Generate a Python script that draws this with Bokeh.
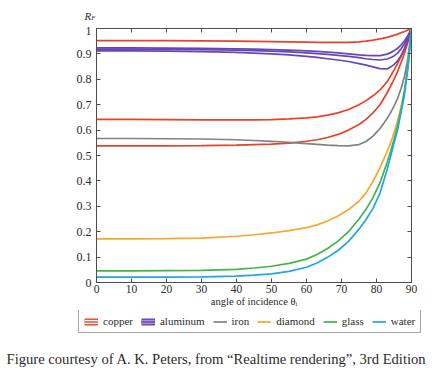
from bokeh.plotting import figure
from bokeh.layouts import column
from bokeh.models import (Range1d, FixedTicker, LinearAxis, Legend, LegendItem,
                          Label, CustomJSTickFormatter)
from bokeh.embed import file_html
from bokeh.resources import INLINE

# ---------------- data ----------------
angles = [0, 10, 20, 30, 40, 45, 50, 55, 60, 63, 66, 69, 72, 75, 77, 79, 81, 83,
          84, 85, 86, 87, 88, 89, 90]

copper_r = [0.952, 0.952, 0.952, 0.951, 0.950, 0.949, 0.948, 0.947, 0.946, 0.945,
            0.945, 0.945, 0.945, 0.947, 0.950, 0.954, 0.959, 0.965, 0.969, 0.973,
            0.978, 0.983, 0.988, 0.994, 1.0]
copper_g = [0.642, 0.642, 0.641, 0.640, 0.640, 0.640, 0.641, 0.644, 0.648, 0.652,
            0.659, 0.668, 0.681, 0.700, 0.716, 0.735, 0.758, 0.790, 0.812, 0.836,
            0.862, 0.890, 0.922, 0.958, 1.0]
copper_b = [0.538, 0.538, 0.538, 0.539, 0.541, 0.543, 0.545, 0.549, 0.556, 0.562,
            0.571, 0.583, 0.600, 0.622, 0.642, 0.668, 0.700, 0.746, 0.772, 0.800,
            0.830, 0.865, 0.903, 0.948, 1.0]
aluminum_1 = [0.924, 0.924, 0.923, 0.922, 0.920, 0.919, 0.917, 0.915, 0.912, 0.910,
              0.907, 0.904, 0.900, 0.896, 0.894, 0.893, 0.893, 0.899, 0.905, 0.912,
              0.922, 0.935, 0.952, 0.973, 1.0]
aluminum_2 = [0.919, 0.919, 0.918, 0.917, 0.915, 0.913, 0.911, 0.908, 0.904, 0.901,
              0.898, 0.894, 0.890, 0.885, 0.881, 0.878, 0.876, 0.880, 0.885, 0.892,
              0.903, 0.919, 0.940, 0.966, 1.0]
aluminum_3 = [0.912, 0.912, 0.911, 0.909, 0.906, 0.903, 0.900, 0.896, 0.890, 0.886,
              0.881, 0.876, 0.870, 0.862, 0.856, 0.849, 0.842, 0.841, 0.848, 0.858,
              0.873, 0.893, 0.920, 0.955, 1.0]
iron = [0.567, 0.567, 0.566, 0.565, 0.562, 0.559, 0.556, 0.552, 0.547, 0.544,
        0.541, 0.539, 0.538, 0.543, 0.555, 0.576, 0.606, 0.645, 0.668, 0.694,
        0.724, 0.763, 0.812, 0.885, 1.0]
diamond = [0.172, 0.172, 0.173, 0.175, 0.182, 0.188, 0.195, 0.204, 0.216, 0.227,
           0.242, 0.262, 0.287, 0.320, 0.353, 0.398, 0.452, 0.514, 0.548, 0.590,
           0.636, 0.690, 0.755, 0.850, 1.0]
glass = [0.046, 0.046, 0.047, 0.048, 0.052, 0.057, 0.064, 0.075, 0.092, 0.110,
         0.134, 0.163, 0.200, 0.250, 0.288, 0.334, 0.393, 0.471, 0.515, 0.563,
         0.615, 0.680, 0.755, 0.855, 1.0]
water = [0.021, 0.021, 0.021, 0.022, 0.025, 0.029, 0.034, 0.044, 0.060, 0.077,
         0.099, 0.126, 0.162, 0.210, 0.248, 0.292, 0.352, 0.443, 0.495, 0.548,
         0.600, 0.668, 0.740, 0.848, 1.0]

x_ticks = [0, 10, 20, 30, 40, 50, 60, 70, 80, 90]
y_ticks = [0, 0.1, 0.2, 0.3, 0.4, 0.5, 0.6, 0.7, 0.8, 0.9, 1.0]
legend_names = ["copper", "aluminum", "iron", "diamond", "glass", "water"]
x_title = "angle of incidence \u03b8\u1d62"
caption = "Figure courtesy of A. K. Peters, from \u201cRealtime rendering\u201d, 3rd Edition"

# ---------------- styles ----------------
SERIF = "Liberation Serif"
C_COPPER = "#ea4129"
C_ALU = "#6747b5"
C_ALU_LIGHT = "#a593d8"
C_IRON = "#7f8387"
C_DIAMOND = "#f8a82c"
C_GLASS = "#43b449"
C_WATER = "#1ea7e1"
AX = "#4d4d4d"
TXT = "#2b2b2b"
LW = 1.7
W = 432
TOP_H, MAIN_H, BOT_H = 26, 284, 66


def no_align(f):
    try:
        f.frame_align = False
    except Exception:
        pass


def blank_fig(h):
    f = figure(width=W, height=h, output_backend="svg", toolbar_location=None,
               title=None, x_axis_location=None, y_axis_location=None,
               x_range=Range1d(0, W), y_range=Range1d(h, 0),
               min_border=0, min_border_left=0, min_border_right=0,
               min_border_top=0, min_border_bottom=0)
    f.grid.visible = False
    f.outline_line_color = None
    f.background_fill_color = "white"
    f.border_fill_color = "white"
    no_align(f)
    return f


def lab(f, x, y, text, size, style="normal", align="left", baseline="alphabetic"):
    f.add_layout(Label(x=x, y=y, text=text, text_font=SERIF, text_font_size=size,
                       text_font_style=style, text_color=TXT, text_align=align,
                       text_baseline=baseline))


# ---------------- top strip: y label R_F ----------------
top_fig = blank_fig(TOP_H)
lab(top_fig, 84, 15.7, "R", "11px", "italic")
lab(top_fig, 90.8, 17.2, "F", "6.5px", "italic")

# ---------------- main plot ----------------
p = figure(width=W, height=MAIN_H, output_backend="svg", toolbar_location=None,
           x_range=Range1d(0, 90), y_range=Range1d(0, 1),
           min_border_left=96, min_border_right=21, min_border_top=2,
           min_border_bottom=28)
no_align(p)
p.grid.visible = False
p.outline_line_color = AX
p.outline_line_width = 1
p.background_fill_color = "white"
p.border_fill_color = "white"

blank = CustomJSTickFormatter(code="return ''")


def style_axis(ax):
    ax.axis_line_color = AX
    ax.major_tick_line_color = AX
    ax.major_tick_in = 4
    ax.major_tick_out = 0
    ax.minor_tick_line_color = None
    ax.major_label_text_font = SERIF
    ax.major_label_text_color = TXT
    ax.major_label_text_font_style = "normal"


xa = p.xaxis[0]
xa.ticker = FixedTicker(ticks=x_ticks)
style_axis(xa)
xa.major_label_text_font_size = "11.5px"
xa.major_label_standoff = 2
xa.axis_label = x_title
xa.axis_label_text_font = SERIF
xa.axis_label_text_font_size = "10.5px"
xa.axis_label_text_font_style = "normal"
xa.axis_label_text_color = TXT
xa.axis_label_standoff = 0

ya = p.yaxis[0]
ya.ticker = FixedTicker(ticks=y_ticks)
ya.formatter = CustomJSTickFormatter(code="return String(Math.round(tick*10)/10)")
style_axis(ya)
ya.major_label_text_font_size = "12px"
ya.major_label_standoff = 5

top = LinearAxis(ticker=FixedTicker(ticks=x_ticks), formatter=blank)
style_axis(top)
top.major_label_standoff = 0
p.add_layout(top, "above")
right = LinearAxis(ticker=FixedTicker(ticks=y_ticks), formatter=blank)
style_axis(right)
right.major_label_standoff = 0
p.add_layout(right, "right")

for ys in (copper_r, copper_g, copper_b):
    p.line(angles, ys, line_color=C_COPPER, line_width=LW)
for ys in (aluminum_1, aluminum_2, aluminum_3):
    p.line(angles, ys, line_color=C_ALU, line_width=LW)
p.line(angles, iron, line_color=C_IRON, line_width=LW)
p.line(angles, diamond, line_color=C_DIAMOND, line_width=LW)
p.line(angles, glass, line_color=C_GLASS, line_width=LW)
p.line(angles, water, line_color=C_WATER, line_width=LW)

# ---------------- bottom strip: legend, caption ----------------
bot = blank_fig(BOT_H)


def dummy(color, width):
    # legend-icon carriers, placed outside the visible range
    return bot.line([-50, -40], [-50, -50], line_color=color, line_width=width)


items = [
    LegendItem(label=legend_names[0],
               renderers=[dummy(C_COPPER, 7), dummy("white", 4.2), dummy(C_COPPER, 1.4)]),
    LegendItem(label=legend_names[1],
               renderers=[dummy(C_ALU, 7), dummy(C_ALU_LIGHT, 4.2), dummy(C_ALU, 1.4)]),
    LegendItem(label=legend_names[2], renderers=[dummy(C_IRON, LW)]),
    LegendItem(label=legend_names[3], renderers=[dummy(C_DIAMOND, LW)]),
    LegendItem(label=legend_names[4], renderers=[dummy(C_GLASS, LW)]),
    LegendItem(label=legend_names[5], renderers=[dummy(C_WATER, LW)]),
]
legend = Legend(items=items, location=(78, BOT_H - 23), orientation="horizontal",
                glyph_width=14, glyph_height=9, label_standoff=5, spacing=8,
                padding=5, margin=0, label_height=12, label_width=10,
                label_text_font=SERIF, label_text_font_size="11px",
                label_text_color=TXT, border_line_color=AX, border_line_width=1,
                background_fill_color="white", background_fill_alpha=1.0)
bot.add_layout(legend)

lab(bot, 216, 48, caption, "14.6px", "normal", "center")

layout = column(top_fig, p, bot, spacing=0)
open("out.html", "w").write(file_html(layout, INLINE))
